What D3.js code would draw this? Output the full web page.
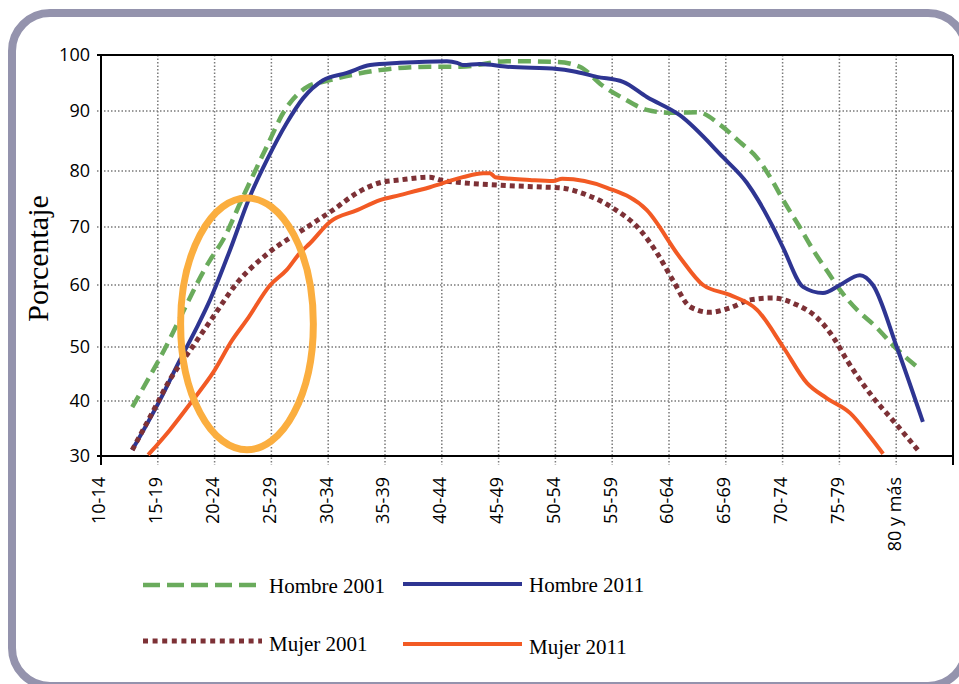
<!DOCTYPE html>
<html>
<head>
<meta charset="utf-8">
<script src="https://cdn.jsdelivr.net/npm/d3@7"></script>
<style>
  body { margin: 0; background: #fff; }
</style>
</head>
<body>
<script>
// age groups on the x axis (position = index)
var ageGroups = ["10-14", "15-19", "20-24", "25-29", "30-34", "35-39", "40-44",
    "45-49", "50-54", "55-59", "60-64", "65-69", "70-74", "75-79", "80 y más"];

var yTicks = [30, 40, 50, 60, 70, 80, 90, 100];

// series: [age position, percentage]
var hombre2001 = [[0.55, 38.9], [1.04, 48.0], [1.92, 64.3], [2.15, 67.8], [2.5, 75.4],
    [2.89, 83.5], [3.24, 90.2], [3.63, 94.3], [4.03, 95.5], [4.91, 97.3], [5.79, 97.9],
    [6.32, 97.9], [7.15, 98.9], [8.03, 98.75], [8.43, 97.9], [8.82, 94.6], [9.19, 92.3],
    [9.61, 90.2], [10.02, 89.7], [10.51, 89.8], [10.9, 87.7], [11.25, 84.8], [11.55, 82.2],
    [11.81, 78.4], [12.01, 74.8], [12.3, 70.0], [12.54, 66.0], [12.8, 62.2], [13.01, 59.2],
    [13.31, 56.0], [13.66, 53.1], [13.94, 50.3], [14.37, 46.3]];

var hombre2011 = [[0.55, 31.1], [1.04, 40.2], [1.39, 47.6], [1.69, 53.2], [1.92, 57.6],
    [2.27, 66.0], [2.62, 75.4], [2.92, 81.8], [3.27, 88.0], [3.56, 92.3], [3.91, 95.5],
    [4.33, 96.8], [4.74, 98.2], [5.26, 98.6], [6.09, 98.9], [6.27, 98.6], [6.37, 98.2],
    [6.67, 98.4], [7.15, 97.9], [8.03, 97.5], [8.31, 97.1], [8.73, 96.1], [9.19, 95.2],
    [9.61, 92.5], [10.19, 89.3], [10.95, 82.3], [11.37, 77.9], [11.57, 74.8], [11.83, 70.0],
    [12.01, 66.4], [12.36, 59.7], [12.71, 58.7], [13.01, 60.0], [13.36, 61.7], [13.59, 60.0],
    [14.01, 50.0], [14.47, 36.2]];

var mujer2001 = [[0.55, 31.1], [0.9, 37.8], [1.21, 43.9], [1.57, 49.4], [1.97, 54.8],
    [2.39, 60.3], [2.92, 65.3], [3.63, 70.0], [4.08, 73.0], [4.51, 76.1],
    [4.91, 77.9], [5.26, 78.4], [5.79, 78.9], [5.97, 78.4], [6.37, 77.9], [6.97, 77.5],
    [7.85, 77.1], [8.08, 77.0], [8.56, 75.7], [9.01, 73.4], [9.49, 69.5], [9.79, 65.5],
    [10.07, 60.8], [10.37, 56.5], [10.72, 55.6], [11.07, 56.3], [11.43, 57.6], [11.83, 57.9],
    [12.25, 56.8], [12.61, 54.7], [12.89, 51.6], [13.13, 47.6], [13.59, 40.7], [13.94, 36.5],
    [14.38, 31.1]];

var mujer2011 = [[0.83, 30.2], [1.21, 34.7], [1.62, 40.2], [1.97, 45.2], [2.31, 51.1],
    [2.57, 54.4], [2.98, 60.0], [3.27, 62.6], [3.5, 65.5], [3.68, 67.2], [4.03, 70.9],
    [4.51, 73.0], [4.91, 74.8], [5.26, 75.7], [5.79, 77.1], [6.37, 78.9], [6.73, 79.6],
    [6.85, 79.6], [6.94, 78.9], [7.55, 78.4], [7.96, 78.2], [8.12, 78.6], [8.91, 77.0],
    [9.61, 73.0], [10.19, 64.8], [10.6, 60.0], [11.07, 58.4], [11.55, 56.0], [12.01, 50.0],
    [12.43, 43.3], [12.78, 40.5], [13.19, 37.8], [13.54, 33.5], [13.77, 30.4]];

var seriesNames = ["Hombre 2001", "Hombre 2011", "Mujer 2001", "Mujer 2011"];
var seriesData = [hombre2001, hombre2011, mujer2001, mujer2011];

// highlighted zone (ellipse): age positions and percentages
var highlightAge = [1.34, 3.8];
var highlightPct = [30.5, 75.8];

var CH = {};    // chart scope

CH.W = 959;
CH.H = 684;

CH.styles = [
    { color: "#6aab5c", width: 4.5, dash: "13,7", legDash: "17,7" },
    { color: "#2e3592", width: 4, dash: null, legDash: null },
    { color: "#7d3136", width: 5, dash: "5,4", legDash: "5,4.6" },
    { color: "#f25a24", width: 4, dash: null, legDash: null }
];

CH.svg = d3.select("body").append("svg")
    .attr("width", CH.W)
    .attr("height", CH.H);

// rounded frame
CH.svg.append("rect")
    .attr("x", 12).attr("y", 13)
    .attr("width", 954).attr("height", 673)
    .attr("rx", 38).attr("ry", 38)
    .style("fill", "#fff")
    .style("stroke", "#9493ad")
    .style("stroke-width", 8);

CH.x = d3.scaleLinear().domain([0, 15]).range([101, 953]);
// the source y axis is not evenly spaced, so one segment per gridline
CH.y = d3.scaleLinear().domain(yTicks).range([456, 401, 347, 285, 227, 171, 111, 55]);

CH.top = CH.y(100);
CH.bottom = CH.y(30);
CH.left = CH.x(0);
CH.right = CH.x(15);

/* gridlines */
CH.grid = CH.svg.append("g")
    .style("stroke", "#7a7a7a")
    .style("stroke-width", 1.5)
    .style("stroke-dasharray", "1.5,2");

CH.grid.selectAll("line.h")
    .data(yTicks.filter(function(d) { return d > 30 && d < 100; }))
    .enter().append("line")
    .attr("class", "h")
    .attr("x1", CH.left - 4).attr("x2", CH.right)
    .attr("y1", function(d) { return CH.y(d); })
    .attr("y2", function(d) { return CH.y(d); });

CH.grid.selectAll("line.v")
    .data(d3.range(1, ageGroups.length))
    .enter().append("line")
    .attr("class", "v")
    .attr("x1", function(d) { return CH.x(d); })
    .attr("x2", function(d) { return CH.x(d); })
    .attr("y1", CH.top).attr("y2", CH.bottom + 9);

/* frame of the plot */
CH.axes = CH.svg.append("g")
    .style("stroke", "#000")
    .style("stroke-width", 2);
CH.axes.append("line")
    .attr("x1", CH.left - 4).attr("x2", CH.right)
    .attr("y1", CH.top).attr("y2", CH.top);
CH.axes.append("line")
    .attr("x1", CH.left - 4).attr("x2", CH.right)
    .attr("y1", CH.bottom).attr("y2", CH.bottom);
CH.axes.append("line")
    .attr("x1", CH.left).attr("x2", CH.left)
    .attr("y1", CH.top).attr("y2", CH.bottom + 9);
CH.axes.append("line")
    .attr("x1", CH.right).attr("x2", CH.right)
    .attr("y1", CH.top).attr("y2", CH.bottom + 9);

/* y labels */
CH.yAxis = CH.svg.append("g")
    .attr("transform", "translate(" + CH.left + ",0)")
    .call(d3.axisLeft(CH.y).tickValues(yTicks).tickSize(0).tickPadding(11));
CH.yAxis.select(".domain").remove();
CH.yAxis.selectAll("text")
    .style("font-family", "'Open Sans', sans-serif")
    .style("font-size", "18px")
    .style("fill", "#000");

/* x labels, vertical */
CH.svg.append("g").selectAll("text")
    .data(ageGroups)
    .enter().append("text")
    .attr("transform", function(d, i) {
        return "translate(" + (CH.x(i) - 2) + "," + (CH.bottom + 21) + ") rotate(-90)";
    })
    .attr("dy", "0.35em")
    .style("text-anchor", "end")
    .style("font-family", "'Open Sans', sans-serif")
    .style("font-size", "18px")
    .style("fill", "#000")
    .text(function(d) { return d; });

CH.svg.append("text")
    .attr("transform", "translate(48," + ((CH.top + CH.bottom) / 2 + 3) + ") rotate(-90)")
    .style("text-anchor", "middle")
    .style("font-family", "'Liberation Serif', serif")
    .style("font-size", "30px")
    .style("fill", "#000")
    .text("Porcentaje");

/* lines */
CH.line = d3.line()
    .x(function(d) { return CH.x(d[0]); })
    .y(function(d) { return CH.y(d[1]); })
    .curve(d3.curveMonotoneX);

CH.svg.append("g").selectAll("path")
    .data(seriesData)
    .enter().append("path")
    .attr("d", CH.line)
    .style("fill", "none")
    .style("stroke", function(d, i) { return CH.styles[i].color; })
    .style("stroke-width", function(d, i) { return CH.styles[i].width; })
    .style("stroke-dasharray", function(d, i) { return CH.styles[i].dash; })
    .style("stroke-linejoin", "round");

/* highlight ellipse */
CH.svg.append("ellipse")
    .attr("cx", (CH.x(highlightAge[0]) + CH.x(highlightAge[1])) / 2)
    .attr("cy", (CH.y(highlightPct[0]) + CH.y(highlightPct[1])) / 2)
    .attr("rx", (CH.x(highlightAge[1]) - CH.x(highlightAge[0])) / 2 - 3.5)
    .attr("ry", (CH.y(highlightPct[0]) - CH.y(highlightPct[1])) / 2 - 3.5)
    .style("fill", "none")
    .style("stroke", "#fbae3f")
    .style("stroke-width", 7);

/* legend */
CH.legPos = [[143, 585], [403, 584], [143, 641], [403, 644]];
CH.leg = CH.svg.append("g").selectAll("g")
    .data(seriesNames)
    .enter().append("g")
    .attr("transform", function(d, i) {
        return "translate(" + CH.legPos[i][0] + "," + CH.legPos[i][1] + ")";
    });
CH.leg.append("line")
    .attr("x1", 0).attr("x2", 119)
    .attr("y1", 0).attr("y2", 0)
    .style("stroke", function(d, i) { return CH.styles[i].color; })
    .style("stroke-width", function(d, i) { return CH.styles[i].width; })
    .style("stroke-dasharray", function(d, i) { return CH.styles[i].legDash; });
CH.leg.append("text")
    .attr("x", 126)
    .attr("y", function(d, i) { return i < 2 ? 8 : 10; })
    .style("font-family", "'Liberation Serif', serif")
    .style("font-size", "21px")
    .style("fill", "#000")
    .text(function(d) { return d; });
</script>
</body>
</html>
